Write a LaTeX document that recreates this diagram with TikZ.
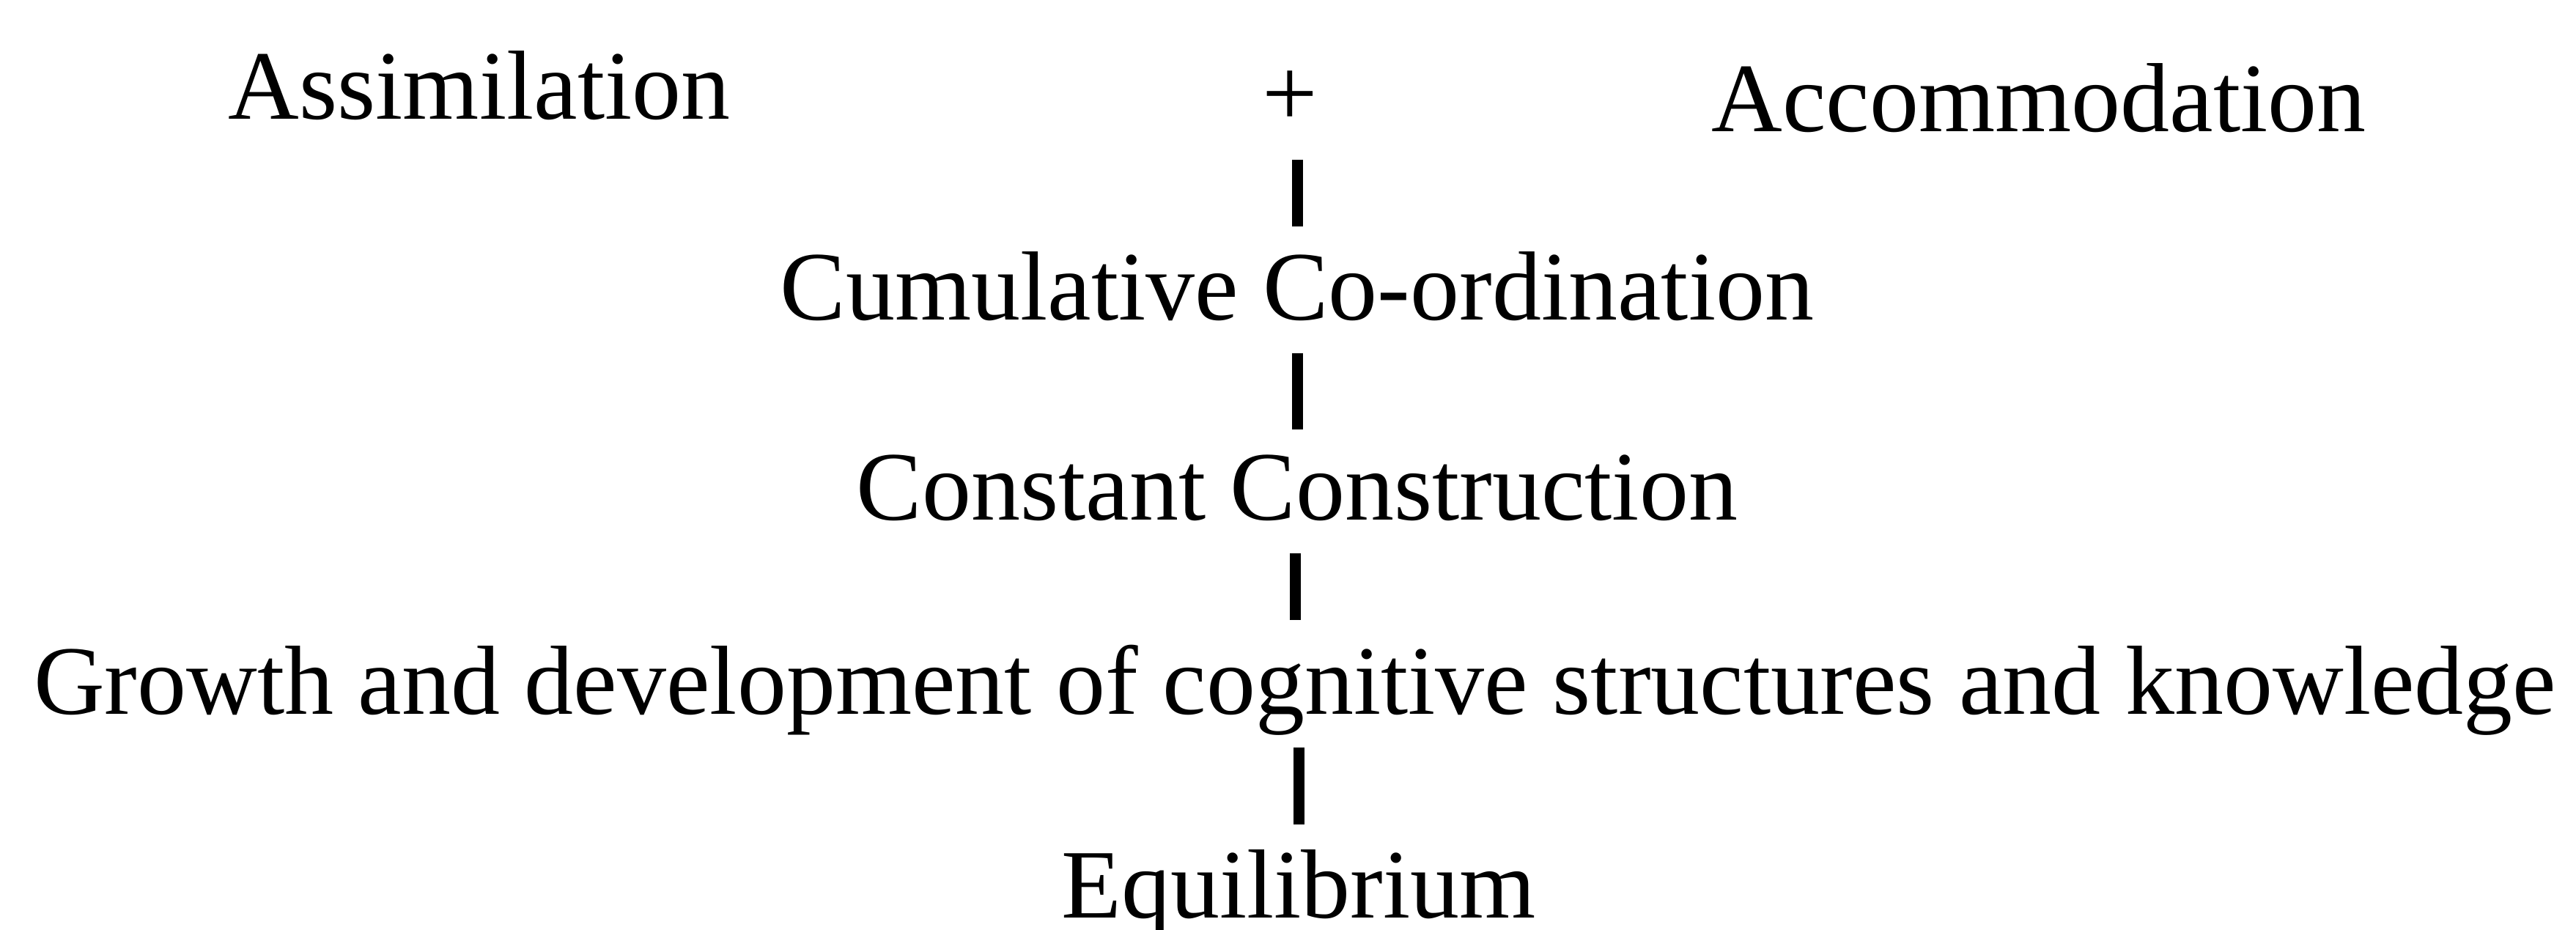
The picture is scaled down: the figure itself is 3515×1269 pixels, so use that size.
\documentclass[tikz,border=0pt]{standalone}
\usepackage{fontspec}
\setmainfont{Liberation Serif}
\begin{document}
\begin{tikzpicture}[
    x=0.1pt, y=-0.1pt,
    lbl/.style={anchor=base, inner sep=0pt, text depth=0pt,
                font=\fontsize{13.4pt}{16pt}\selectfont},
    link/.style={line width=1.5pt, shorten <=4.3pt, shorten >=3.3pt}]
    \useasboundingbox (0,0) rectangle (3515,1269);
    \node[lbl] (assim)  at (654, 163)   {Assimilation};
    \node[lbl] (plus)   at (1760, 173)  {+};
    \node[lbl] (accom)  at (2782, 180)  {Accommodation};
    \node[lbl] (cumul)  at (1770, 437)  {Cumulative Co-ordination};
    \node[lbl] (const)  at (1770, 710)  {Constant Construction};
    \node[lbl] (growth) at (1767, 975)  {Growth and development of cognitive structures and knowledge};
    \node[lbl] (equil)  at (1772, 1253) {Equilibrium};
    \foreach \a/\b in {plus/cumul, cumul/const, const/growth, growth/equil}
        \draw[link] (\b.north |- \a.south) -- (\b.north);
\end{tikzpicture}
\end{document}
